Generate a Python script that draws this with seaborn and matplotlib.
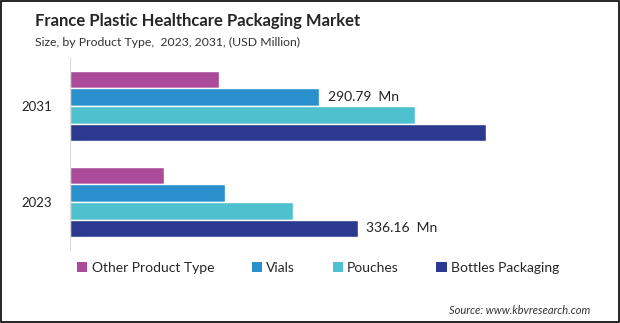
import matplotlib
matplotlib.use("Agg")
import matplotlib.pyplot as plt
import seaborn as sns
import pandas as pd
from matplotlib.patches import Rectangle, Patch

# Market size by product type, USD million
years = ["2031", "2023"]
product_types = ["Other Product Type", "Vials", "Pouches", "Bottles Packaging"]
other_product_type = [174.0, 110.0]
vials = [290.79, 181.0]
pouches = [403.0, 260.0]
bottles_packaging = [486.0, 336.16]
colors = ["#AB4B9A", "#2A8FCD", "#4EC1CE", "#2B3990"]

series = [other_product_type, vials, pouches, bottles_packaging]
df = pd.DataFrame(
    [(y, p, s[i]) for p, s in zip(product_types, series) for i, y in enumerate(years)],
    columns=["Year", "Product", "Value"],
)

sns.set_theme(style="white")
plt.rcParams["font.family"] = ["Lato", "DejaVu Sans"]

fig = plt.figure(figsize=(6.2, 3.23), dpi=100)
ax = fig.add_axes([70 / 620, 1 - 250 / 323, 530 / 620, 192 / 323])

sns.barplot(
    data=df, y="Year", x="Value", hue="Product", order=years,
    hue_order=product_types, palette=colors, orient="h",
    width=0.73, saturation=1, ax=ax, legend=False,
)

ax.set_xlim(0, 530 * 1.1675)
ax.set_ylim(1.5, -0.5)
ax.set_xlabel("")
ax.set_ylabel("")
ax.set_xticks([])
for s in ["top", "right", "bottom"]:
    ax.spines[s].set_visible(False)
ax.spines["left"].set_color("#D9D9D9")
ax.spines["left"].set_linewidth(0.8)
ax.tick_params(axis="y", length=0, pad=13, labelsize=9.5, labelcolor="#222222")

# Value labels on Vials 2031 and Bottles Packaging 2023
for container, prod in zip(ax.containers, product_types):
    for bar, yr in zip(container, years):
        if (prod == "Vials" and yr == "2031") or (prod == "Bottles Packaging" and yr == "2023"):
            val = bar.get_width()
            ax.text(val + 10, bar.get_y() + bar.get_height() / 2, f"{val:.2f}  Mn",
                    va="center", ha="left", fontsize=10, color="#222222")

fig.text(35 / 620, 1 - 21 / 323, "France Plastic Healthcare Packaging Market",
         fontsize=12, fontweight="bold", color="#262626", va="center")
fig.text(35 / 620, 1 - 42 / 323, "Size, by Product Type,  2023, 2031, (USD Million)",
         fontsize=8.8, color="#333333", va="center")

handles = [Patch(facecolor=c, edgecolor="none") for c in colors]
fig.legend(handles, product_types, loc="center left", bbox_to_anchor=(77 / 620, 1 - 268 / 323),
           ncol=4, frameon=False, fontsize=10, handlelength=0.75, handleheight=0.75,
           handletextpad=0.3, columnspacing=2.7, borderaxespad=0, borderpad=0)

fig.text(590 / 620, 1 - 311 / 323, "Source: www.kbvresearch.com", fontsize=8,
         style="italic", color="#333333", ha="right", va="center")

fig.add_artist(Rectangle((0.001, 0.002), 0.997, 0.995, transform=fig.transFigure,
                         fill=False, edgecolor="black", linewidth=1.2))

fig.savefig("out.png", dpi=100)
